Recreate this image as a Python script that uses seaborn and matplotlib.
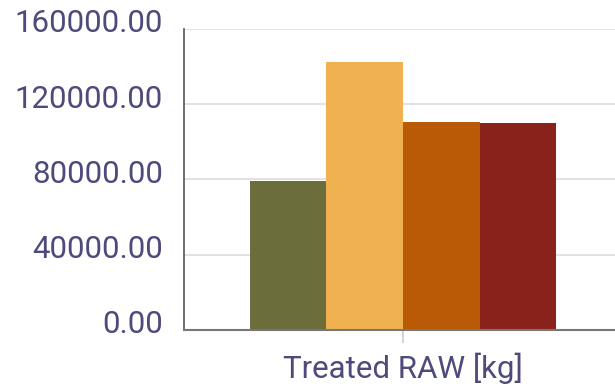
import matplotlib
matplotlib.use("Agg")
import matplotlib.pyplot as plt
import matplotlib.transforms as mtransforms
import seaborn as sns
import pandas as pd
from matplotlib.ticker import FormatStrFormatter

categories = ["Treated RAW [kg]"]
series = ["S1", "S2", "S3", "S4"]
values = [79000, 142500, 110500, 110000]
colors = ["#6B6E3B", "#F0B250", "#BA5A07", "#8A221C"]
y_ticks = [0, 40000, 80000, 120000, 160000]

df = pd.DataFrame({
    "category": categories * len(series),
    "series": series,
    "value": values,
})

sns.set_style("white")
plt.rcParams["font.family"] = ["Roboto", "DejaVu Sans"]

text_color = "#4E4A7B"

fig = plt.figure(figsize=(6.15, 3.87), dpi=100)
ax = fig.add_axes([0.2992, 0.1473, 0.712, 0.7778])

sns.barplot(data=df, x="category", y="value", hue="series",
            palette=colors, width=0.7, saturation=1, legend=False,
            linewidth=0, ax=ax)

ax.set_xlim(-0.5, 0.5)
ax.set_ylim(0, 160000)
ax.set_yticks(y_ticks)
ax.yaxis.set_major_formatter(FormatStrFormatter("%.2f"))
ax.set_xlabel("")
ax.set_ylabel("")

ax.grid(axis="y", color="#DDDDDD", linewidth=1.2)
ax.set_axisbelow(True)

for side in ["top", "right"]:
    ax.spines[side].set_visible(False)
ax.spines["left"].set_color("#555555")
ax.spines["left"].set_linewidth(1.2)
ax.spines["bottom"].set_color("#777777")
ax.spines["bottom"].set_linewidth(1.5)

ax.tick_params(axis="y", length=0, pad=15, labelsize=22.5, labelcolor=text_color)
ax.tick_params(axis="x", length=9, width=1.2, color="#CCCCCC", pad=7,
               labelsize=22.5, labelcolor=text_color, bottom=True)

# y tick labels sit slightly above their gridlines
lift = mtransforms.ScaledTranslation(0, 0.08, fig.dpi_scale_trans)
for lbl in ax.get_yticklabels():
    lbl.set_transform(lbl.get_transform() + lift)

fig.savefig("out.png", dpi=100)
